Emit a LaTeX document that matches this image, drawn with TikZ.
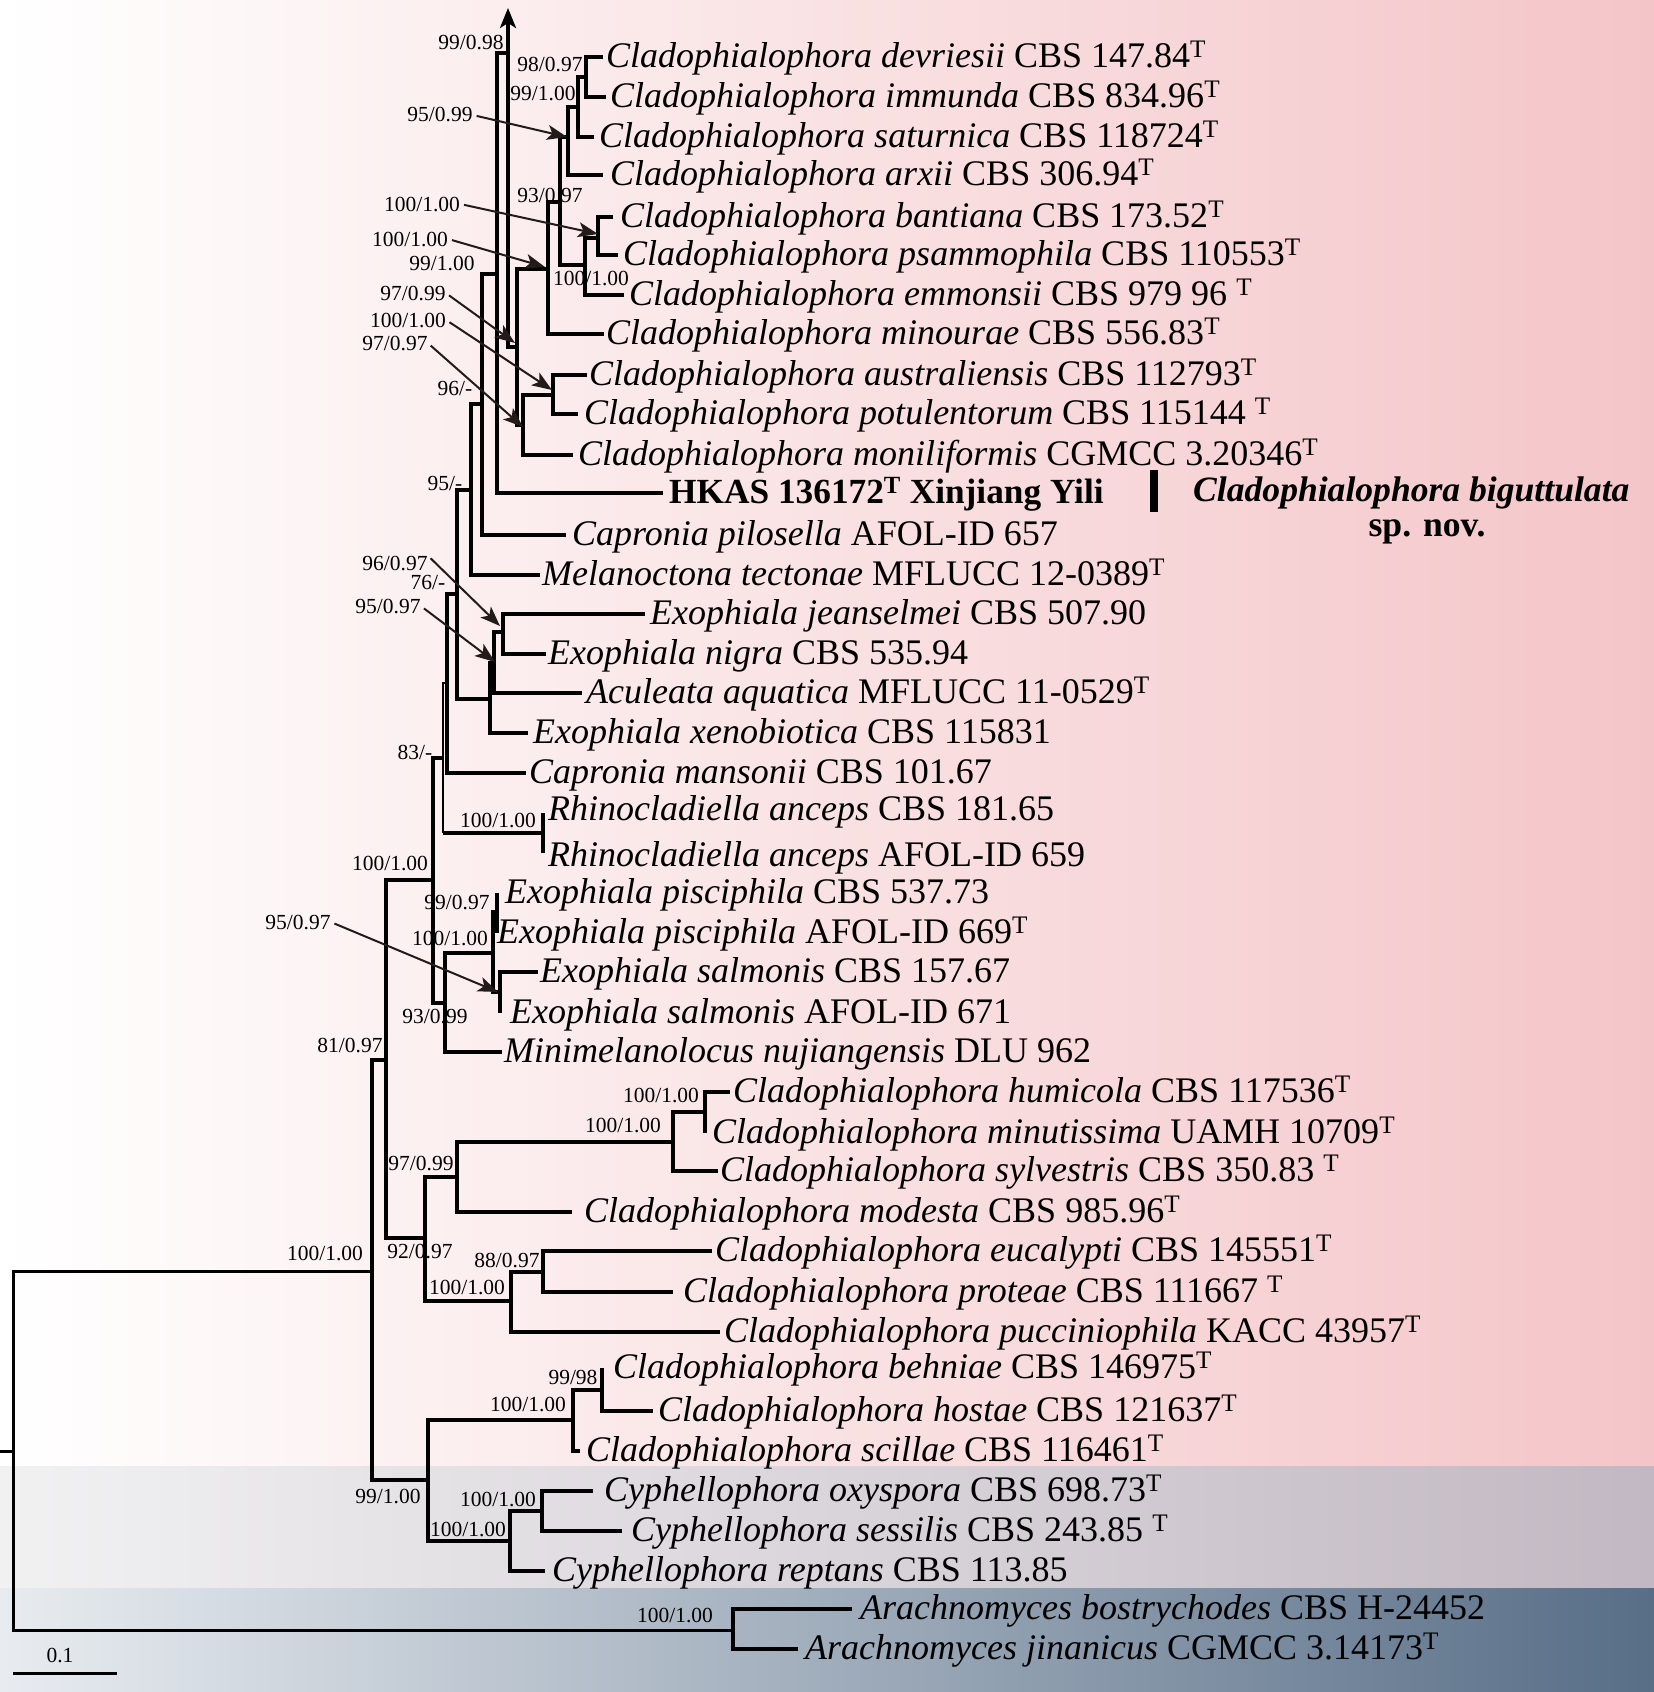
\documentclass[tikz,border=0pt]{standalone}
\usepackage{fontspec}
\setmainfont{Liberation Serif}
\usetikzlibrary{arrows.meta}
\definecolor{pinkR}{RGB}{244,197,200}
\definecolor{pinkM}{RGB}{250,227,228}
\definecolor{grayL}{RGB}{241,241,242}
\definecolor{grayM}{RGB}{226,223,227}
\definecolor{grayR}{RGB}{194,184,195}
\definecolor{slateL}{RGB}{232,236,240}
\definecolor{slateM}{RGB}{178,189,201}
\definecolor{slateR}{RGB}{88,110,135}
\definecolor{arrc}{RGB}{35,26,26}
\newcommand{\Tt}{\textsuperscript{T}}
\begin{document}
\begin{tikzpicture}[x=1pt,y=-1pt,
  br/.style={line width=3.2pt,line join=miter},
  thinbr/.style={line width=1.6pt},
  uparrow/.style={-{Stealth[length=20pt,width=16pt,inset=5pt]}},
  ann/.style={line width=2pt,draw=arrc,shorten <=4pt,-{Stealth[length=20pt,width=15pt,inset=5pt]}},
  sv/.style={font=\fontsize{21.5}{24}\selectfont,inner sep=0pt},
  tx/.style={font=\fontsize{36}{40}\selectfont,inner sep=0pt,anchor=base west}]
\useasboundingbox (0,0) rectangle (1654,1692);
% backgrounds
\shade[left color=white,middle color=pinkM,right color=pinkR] (0,0) rectangle (1654,1466);
\shade[left color=grayL,middle color=grayM,right color=grayR] (0,1466) rectangle (1654,1588);
\shade[left color=slateL,middle color=slateM,right color=slateR] (0,1588) rectangle (1654,1692);

% tips
\coordinate (t1) at (603,57);  \coordinate (t2) at (606,97);
\coordinate (t3) at (594,137); \coordinate (t4) at (603,175);
\coordinate (t5) at (613,217); \coordinate (t6) at (618,255);
\coordinate (t7) at (624,295); \coordinate (t8) at (604,334);
\coordinate (t9) at (587,375); \coordinate (t10) at (578,414);
\coordinate (t11) at (573,455); \coordinate (t12) at (663,493);
\coordinate (t13) at (566,535); \coordinate (t14) at (540,575);
\coordinate (t15) at (645,614); \coordinate (t16) at (546,654);
\coordinate (t17) at (582,693); \coordinate (t18) at (528,733);
\coordinate (t19) at (526,773); \coordinate (t20) at (543,813);
\coordinate (t21) at (543,853); \coordinate (t22) at (497,893);
\coordinate (t23) at (497,933); \coordinate (t24) at (538,972);
\coordinate (t25) at (500,1013); \coordinate (t26) at (502,1052);
\coordinate (t27) at (730,1092); \coordinate (t28) at (705,1133);
\coordinate (t29) at (718,1171); \coordinate (t30) at (572,1212);
\coordinate (t31) at (712,1251); \coordinate (t32) at (673,1292);
\coordinate (t33) at (720,1332); \coordinate (t34) at (602,1368);
\coordinate (t35) at (653,1411); \coordinate (t36) at (580,1451);
\coordinate (t37) at (593,1491); \coordinate (t38) at (622,1531);
\coordinate (t39) at (545,1571); \coordinate (t40) at (852,1609);
\coordinate (t41) at (798,1649);
% internal nodes
\coordinate (Na) at (586,77);  \coordinate (Nb) at (578,107);
\coordinate (Nc) at (568,137); \coordinate (Nd) at (598,238);
\coordinate (Ne) at (585,265); \coordinate (Nf) at (560,202);
\coordinate (Ng) at (548,269); \coordinate (Nh) at (553,395);
\coordinate (Ni) at (523,425); \coordinate (Nj) at (517,347);
\coordinate (Nk) at (508,53);  \coordinate (atop) at (508,8);
\coordinate (Nl) at (497,274); \coordinate (Nm) at (482,404);
\coordinate (Nn) at (471,490); \coordinate (No) at (457,594);
\coordinate (Np) at (503,632); \coordinate (Nq) at (494,663);
\coordinate (Nr) at (490,699); \coordinate (Ns) at (447,683);
\coordinate (NR) at (543,833); \coordinate (Nt) at (443,758);
\coordinate (NtR) at (443,833);
\coordinate (Ny) at (497,912); \coordinate (Nz) at (500,992);
\coordinate (Nx) at (493,953); \coordinate (Nv) at (445,1003);
\coordinate (Nu) at (433,880); \coordinate (ND) at (705,1112);
\coordinate (NC) at (673,1142); \coordinate (NB) at (457,1177);
\coordinate (NF) at (543,1272); \coordinate (NE) at (511,1301);
\coordinate (NA) at (425,1238); \coordinate (Nw) at (386,1060);
\coordinate (NJ) at (602,1390); \coordinate (NI) at (573,1420);
\coordinate (NL) at (542,1511); \coordinate (NK) at (510,1541);
\coordinate (NH) at (428,1480); \coordinate (NG) at (372,1271);
\coordinate (NAr) at (733,1630); \coordinate (root) at (13,1451);
\coordinate (stub) at (0,1451);

% branches
\draw[br] (t1) -| (Na) |- (t2);
\draw[br] (Na) -| (Nb) |- (t3);
\draw[br] (Nb) -| (Nc) |- (t4);
\draw[br] (t5) -| (Nd) |- (t6);
\draw[br] (Nd) -| (Ne) |- (t7);
\draw[br] (Nc) -| (Nf) |- (Ne);
\draw[br] (Nf) -| (Ng) |- (t8);
\draw[br] (t9) -| (Nh) |- (t10);
\draw[br] (Nh) -| (Ni) |- (t11);
\draw[br] (Ng) -| (Nj) |- (Ni);
\draw[br,uparrow] (Nj) -| (atop);
\draw[br] (Nk) -| (Nl) |- (t12);
\draw[br] (Nl) -| (Nm) |- (t13);
\draw[br] (Nm) -| (Nn) |- (t14);
\draw[br] (t15) -| (Np) |- (t16);
\draw[br] (Np) -| (Nq) |- (t17);
\draw[br] (Nq) -| (Nr) |- (t18);
\draw[br] (Nn) -| (No) |- (Nr);
\draw[br] (No) -| (Ns) |- (t19);
\draw[br] (t20) -| (NR) |- (t21);
\draw[thinbr] (Ns) -| (Nt) -- (NtR);
\draw[br] (NtR) -- (NR);
\draw[br] (t22) -| (Ny) |- (t23);
\draw[br] (t24) -| (Nz) |- (t25);
\draw[br] (Ny) -| (Nx) |- (Nz);
\draw[br] (Nx) -| (Nv) |- (t26);
\draw[br] (Nt) -| (Nu) |- (Nv);
\draw[br] (t27) -| (ND) |- (t28);
\draw[br] (ND) -| (NC) |- (t29);
\draw[br] (NC) -| (NB) |- (t30);
\draw[br] (t31) -| (NF) |- (t32);
\draw[br] (NF) -| (NE) |- (t33);
\draw[br] (NB) -| (NA) |- (NE);
\draw[br] (Nu) -| (Nw) |- (NA);
\draw[br] (t34) -| (NJ) |- (t35);
\draw[br] (NJ) -| (NI) |- (t36);
\draw[br] (t37) -| (NL) |- (t38);
\draw[br] (NL) -| (NK) |- (t39);
\draw[br] (NI) -| (NH) |- (NK);
\draw[br] (Nw) -| (NG) |- (NH);
\draw[br] (t40) -| (NAr) |- (t41);
\draw[br,line width=3pt] (NG) -| (root) |- (NAr);
\draw[br,line width=3pt] (stub) -- (root);

% taxa
\node[tx] (x1) at (606,67) {\textit{Cladophialophora devriesii} CBS 147.84\Tt};
\node[tx] (x2) at (610,107) {\textit{Cladophialophora immunda} CBS 834.96\Tt};
\node[tx] (x3) at (599,147) {\textit{Cladophialophora saturnica} CBS 118724\Tt};
\node[tx] (x4) at (610,185) {\textit{Cladophialophora arxii} CBS 306.94\Tt};
\node[tx] (x5) at (620,227) {\textit{Cladophialophora bantiana} CBS 173.52\Tt};
\node[tx] (x6) at (623,265) {\textit{Cladophialophora psammophila} CBS 110553\Tt};
\node[tx] (x7) at (629,305) {\textit{Cladophialophora emmonsii} CBS 979 96 \Tt};
\node[tx] (x8) at (606,344) {\textit{Cladophialophora minourae} CBS 556.83\Tt};
\node[tx] (x9) at (589,385) {\textit{Cladophialophora australiensis} CBS 112793\Tt};
\node[tx] (x10) at (584,424) {\textit{Cladophialophora potulentorum} CBS 115144 \Tt};
\node[tx] (x11) at (578,465) {\textit{Cladophialophora moniliformis} CGMCC 3.20346\Tt};
\node[tx,font=\fontsize{35.3}{40}\selectfont] (x12) at (669,503) {\textbf{HKAS 136172\Tt\ Xinjiang Yili}};
\node[tx] (x13) at (572,545) {\textit{Capronia pilosella} AFOL-ID 657};
\node[tx] (x14) at (542,585) {\textit{Melanoctona tectonae} MFLUCC 12-0389\Tt};
\node[tx] (x15) at (650,624) {\textit{Exophiala jeanselmei} CBS 507.90};
\node[tx] (x16) at (548,664) {\textit{Exophiala nigra} CBS 535.94};
\node[tx] (x17) at (586,703) {\textit{Aculeata aquatica} MFLUCC 11-0529\Tt};
\node[tx] (x18) at (533,743) {\textit{Exophiala xenobiotica} CBS 115831};
\node[tx] (x19) at (529,783) {\textit{Capronia mansonii} CBS 101.67};
\node[tx] (x20) at (548,820) {\textit{Rhinocladiella anceps} CBS 181.65};
\node[tx] (x21) at (548,866) {\textit{Rhinocladiella anceps} AFOL-ID 659};
\node[tx] (x22) at (505,903) {\textit{Exophiala pisciphila} CBS 537.73};
\node[tx] (x23) at (497,943) {\textit{Exophiala pisciphila} AFOL-ID 669\Tt};
\node[tx] (x24) at (540,982) {\textit{Exophiala salmonis} CBS 157.67};
\node[tx] (x25) at (510,1023) {\textit{Exophiala salmonis} AFOL-ID 671};
\node[tx] (x26) at (504,1062) {\textit{Minimelanolocus nujiangensis} DLU 962};
\node[tx] (x27) at (733,1102) {\textit{Cladophialophora humicola} CBS 117536\Tt};
\node[tx] (x28) at (712,1143) {\textit{Cladophialophora minutissima} UAMH 10709\Tt};
\node[tx] (x29) at (720,1181) {\textit{Cladophialophora sylvestris} CBS 350.83 \Tt};
\node[tx] (x30) at (584,1222) {\textit{Cladophialophora modesta} CBS 985.96\Tt};
\node[tx] (x31) at (715,1261) {\textit{Cladophialophora eucalypti} CBS 145551\Tt};
\node[tx] (x32) at (683,1302) {\textit{Cladophialophora proteae} CBS 111667 \Tt};
\node[tx] (x33) at (724,1342) {\textit{Cladophialophora pucciniophila} KACC 43957\Tt};
\node[tx] (x34) at (613,1378) {\textit{Cladophialophora behniae} CBS 146975\Tt};
\node[tx] (x35) at (658,1421) {\textit{Cladophialophora hostae} CBS 121637\Tt};
\node[tx] (x36) at (586,1461) {\textit{Cladophialophora scillae} CBS 116461\Tt};
\node[tx] (x37) at (604,1501) {\textit{Cyphellophora oxyspora} CBS 698.73\Tt};
\node[tx] (x38) at (631,1541) {\textit{Cyphellophora sessilis} CBS 243.85 \Tt};
\node[tx] (x39) at (552,1581) {\textit{Cyphellophora reptans} CBS 113.85};
\node[tx] (x40) at (860,1619) {\textit{Arachnomyces bostrychodes} CBS H-24452};
\node[tx] (x41) at (805,1659) {\textit{Arachnomyces jinanicus} CGMCC 3.14173\Tt};

% new species
\fill (1150,470) rectangle (1158,512);
\node[tx,font=\fontsize{35.6}{40}\selectfont] (sp1) at (1193,501) {\textbf{\textit{Cladophialophora biguttulata}}};
\node[font=\fontsize{35.6}{40}\selectfont,inner sep=0pt,anchor=base] (sp2) at (1427,536) {\textbf{sp. nov.}};

% support values
\node[sv] (l1) at (471,43) {99/0.98};
\node[sv] (l2) at (550,65) {98/0.97};
\node[sv] (l3) at (543,94) {99/1.00};
\node[sv] (l4) at (550,195) {93/0.97};
\node[sv] (l5) at (442,263) {99/1.00};
\node[sv] (l6) at (591,278) {100/1.00};
\node[sv] (l7) at (455,388) {96/-};
\node[sv] (l8) at (445,483) {95/-};
\node[sv] (l9) at (428,582) {76/-};
\node[sv] (l10) at (415,752) {83/-};
\node[sv] (l11) at (498,820) {100/1.00};
\node[sv] (l12) at (390,863) {100/1.00};
\node[sv] (l13) at (457,902) {99/0.97};
\node[sv] (l14) at (450,938) {100/1.00};
\node[sv] (l15) at (435,1016) {93/0.99};
\node[sv] (l16) at (350,1045) {81/0.97};
\node[sv] (l17) at (661,1095) {100/1.00};
\node[sv] (l18) at (623,1125) {100/1.00};
\node[sv] (l19) at (421,1163) {97/0.99};
\node[sv] (l20) at (325,1253) {100/1.00};
\node[sv] (l21) at (420,1251) {92/0.97};
\node[sv] (l22) at (507,1260) {88/0.97};
\node[sv] (l23) at (467,1287) {100/1.00};
\node[sv] (l24) at (573,1377) {99/98};
\node[sv] (l25) at (528,1404) {100/1.00};
\node[sv] (l26) at (388,1496) {99/1.00};
\node[sv] (l27) at (498,1499) {100/1.00};
\node[sv] (l28) at (468,1529) {100/1.00};
\node[sv] (l29) at (675,1615) {100/1.00};

% annotated values with arrows
\node[sv] (a1) at (440,115) {95/0.99};
\node[sv] (a2) at (422,204) {100/1.00};
\node[sv] (a3) at (410,239) {100/1.00};
\node[sv] (a4) at (413,293) {97/0.99};
\node[sv] (a5) at (408,320) {100/1.00};
\node[sv] (a6) at (395,343) {97/0.97};
\node[sv] (a7) at (395,563) {96/0.97};
\node[sv] (a8) at (388,606) {95/0.97};
\node[sv] (a9) at (298,922) {95/0.97};
\coordinate (c1) at (567,137);
\coordinate (c2) at (598,234);
\coordinate (c3) at (545,267);
\coordinate (c4) at (515,343);
\coordinate (c5) at (552,390);
\coordinate (c6) at (523,427);
\coordinate (c7) at (500,626);
\coordinate (c8) at (495,662);
\coordinate (c9) at (498,992);
\draw[ann] (a1.east) -- (c1);
\draw[ann] (a2.east) -- (c2);
\draw[ann] (a3.east) -- (c3);
\draw[ann] (a4.east) -- (c4);
\draw[ann] (a5.east) -- (c5);
\draw[ann] (a6.east) -- (c6);
\draw[ann] (a7.north east) -- (c7);
\draw[ann] (a8.east) -- (c8);
\draw[ann] (a9.east) -- (c9);

% scale bar
\coordinate (sb1) at (13,1673);
\coordinate (sb2) at (117,1673);
\draw[line width=3pt] (sb1) -- (sb2);
\node[sv] (sbl) at (60,1655) {0.1};
\end{tikzpicture}
\end{document}
